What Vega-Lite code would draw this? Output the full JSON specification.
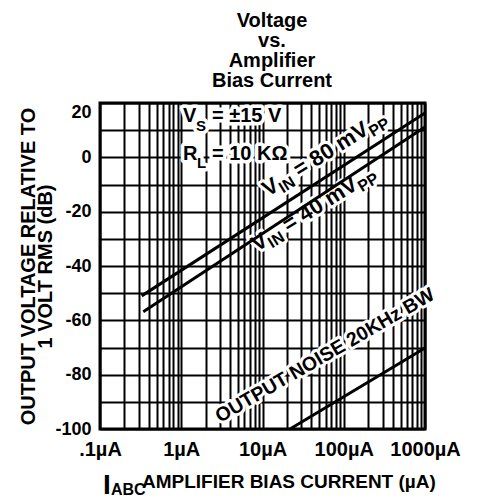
{
  "$schema": "https://vega.github.io/schema/vega-lite/v6.json",
  "width": 325,
  "height": 326,
  "autosize": {"type": "none"},
  "padding": {"left": 100, "top": 103, "right": 54, "bottom": 71},
  "background": "white",
  "title": {
    "text": ["Voltage", "vs.", "Amplifier", "Bias Current"],
    "font": "Liberation Sans",
    "fontSize": 20,
    "fontWeight": "bold",
    "color": "black",
    "lineHeight": 20,
    "anchor": "middle",
    "frame": "group",
    "baseline": "bottom",
    "dx": 9.5,
    "offset": -8
  },
  "config": {
    "view": {"stroke": "black", "strokeWidth": 3},
    "font": "Liberation Sans"
  },
  "datasets": {
    "lines": [
      {"series": "80 mVpp", "current": 0.326, "db": -51.0},
      {"series": "80 mVpp", "current": 1000, "db": 16.3},
      {"series": "40 mVpp", "current": 0.341, "db": -56.8},
      {"series": "40 mVpp", "current": 1000, "db": 11.2},
      {"series": "noise", "current": 21.8, "db": -100},
      {"series": "noise", "current": 1000, "db": -70.2}
    ],
    "labels": [
      {"g": "curve", "current": 11.69, "db": -14.6, "text": "V"},
      {"g": "curve", "current": 28.29, "db": -7.42, "text": "= 80 mV"},
      {"g": "curve", "current": 8.555, "db": -34.85, "text": "V"},
      {"g": "curve", "current": 20.72, "db": -27.67, "text": "= 40 mV"},
      {"g": "curveSub", "current": 17.93, "db": -13.28, "text": "IN"},
      {"g": "curveSub", "current": 228.5, "db": 7.37, "text": "PP"},
      {"g": "curveSub", "current": 13.13, "db": -33.52, "text": "IN"},
      {"g": "curveSub", "current": 167.2, "db": -12.87, "text": "PP"},
      {"g": "noise", "current": 3.0, "db": -97.79, "text": "OUTPUT NOISE 20KHz BW"},
      {"g": "cond", "current": 1.051, "db": 13.01, "text": "V"},
      {"g": "cond", "current": 2.39, "db": 13.01, "text": "= ±15 V"},
      {"g": "cond", "current": 1.051, "db": -0.98, "text": "R"},
      {"g": "cond", "current": 2.39, "db": -0.98, "text": "= 10 KΩ"},
      {"g": "condSub", "current": 1.519, "db": 9.69, "text": "S"},
      {"g": "condSub", "current": 1.563, "db": -3.93, "text": "L"},
      {"g": "xtitle", "current": 0.3287, "db": -121.72, "text": "AMPLIFIER BIAS CURRENT (µA)"},
      {"g": "xtitleI", "current": 0.1089, "db": -123.93, "text": "I"},
      {"g": "xtitleSub", "current": 0.1366, "db": -124.29, "text": "ABC"}
    ]
  },
  "encoding": {
    "x": {
      "field": "current",
      "type": "quantitative",
      "scale": {"type": "log", "domain": [0.1, 1000], "nice": false},
      "axis": {
        "values": [0.1, 0.2, 0.3, 0.4, 0.5, 0.6, 0.7, 0.8, 0.9, 1, 2, 3, 4, 5, 6, 7, 8, 9, 10, 20, 30, 40, 50, 60, 70, 80, 90, 100, 200, 300, 400, 500, 600, 700, 800, 900, 1000],
        "labelExpr": "datum.value == 0.1 ? '.1µA' : datum.value == 1 ? '1µA' : datum.value == 10 ? '10µA' : datum.value == 100 ? '100µA' : datum.value == 1000 ? '1000µA' : ''",
        "encode": {"labels": {"update": {"dx": {"signal": "datum.value == 0.1 ? 22 : datum.value == 1 ? -2 : datum.value == 10 ? -5.5 : datum.value == 100 ? 8 : datum.value == 1000 ? 10 : 0"}}}},
        "title": null,
        "ticks": false,
        "domain": false,
        "grid": true,
        "gridColor": "black",
        "gridWidth": 2,
        "gridOpacity": 1,
        "labelFont": "Liberation Sans",
        "labelFontSize": 20,
        "labelFontWeight": "bold",
        "labelColor": "black",
        "labelPadding": 10,
        "labelFlush": false,
        "labelOverlap": false,
        "labelBound": false
      }
    },
    "y": {
      "field": "db",
      "type": "quantitative",
      "scale": {"domain": [-100, 20], "nice": false, "zero": false},
      "axis": {
        "values": [-100, -90, -80, -70, -60, -50, -40, -30, -20, -10, 0, 10, 20],
        "labelExpr": "datum.value % 20 == 0 ? '' + datum.value : ''",
        "ticks": false,
        "domain": false,
        "grid": true,
        "gridColor": "black",
        "gridWidth": 2,
        "gridOpacity": 1,
        "labelFont": "Liberation Sans",
        "labelFontSize": 18,
        "labelFontWeight": "bold",
        "labelColor": "black",
        "labelPadding": 9,
        "labelFlush": false,
        "labelOverlap": false,
        "labelBaseline": {"condition": {"test": "datum.value == 20", "value": "top"}, "value": "middle"},
        "title": ["OUTPUT VOLTAGE RELATIVE TO", "1 VOLT RMS (dB)"],
        "titleFont": "Liberation Sans",
        "titleFontSize": 20,
        "titleFontWeight": "bold",
        "titleColor": "black",
        "titleAngle": 270,
        "titleAlign": "center",
        "titleBaseline": "alphabetic",
        "titleLineHeight": 17,
        "titleX": -66,
        "titleY": 163
      }
    }
  },
  "layer": [
    {
      "data": {"name": "labels"},
      "transform": [{"filter": "datum.g == 'curve'"}],
      "mark": {"type": "text", "angle": -32, "align": "left", "baseline": "alphabetic", "fontSize": 22, "fontWeight": "bold", "fill": "white", "stroke": "white", "strokeWidth": 6, "strokeJoin": "round"},
      "encoding": {"text": {"field": "text"}}
    },
    {
      "data": {"name": "labels"},
      "transform": [{"filter": "datum.g == 'curveSub'"}],
      "mark": {"type": "text", "angle": -32, "align": "left", "baseline": "alphabetic", "fontSize": 16, "fontWeight": "bold", "fill": "white", "stroke": "white", "strokeWidth": 6, "strokeJoin": "round"},
      "encoding": {"text": {"field": "text"}}
    },
    {
      "data": {"name": "labels"},
      "transform": [{"filter": "datum.g == 'noise'"}],
      "mark": {"type": "text", "angle": -30, "align": "left", "baseline": "alphabetic", "fontSize": 19.5, "fontWeight": "bold", "fill": "white", "stroke": "white", "strokeWidth": 6, "strokeJoin": "round"},
      "encoding": {"text": {"field": "text"}}
    },
    {
      "data": {"name": "labels"},
      "transform": [{"filter": "datum.g == 'cond'"}],
      "mark": {"type": "text", "align": "left", "baseline": "alphabetic", "fontSize": 20, "fontWeight": "bold", "fill": "white", "stroke": "white", "strokeWidth": 7, "strokeJoin": "round"},
      "encoding": {"text": {"field": "text"}}
    },
    {
      "data": {"name": "labels"},
      "transform": [{"filter": "datum.g == 'condSub'"}],
      "mark": {"type": "text", "align": "left", "baseline": "alphabetic", "fontSize": 15, "fontWeight": "bold", "fill": "white", "stroke": "white", "strokeWidth": 7, "strokeJoin": "round"},
      "encoding": {"text": {"field": "text"}}
    },
    {
      "data": {"name": "lines"},
      "mark": {"type": "line", "color": "black", "strokeWidth": 3, "strokeCap": "butt"},
      "encoding": {"detail": {"field": "series"}}
    },
    {
      "data": {"name": "labels"},
      "transform": [{"filter": "datum.g == 'curve'"}],
      "mark": {"type": "text", "angle": -32, "align": "left", "baseline": "alphabetic", "fontSize": 22, "fontWeight": "bold", "color": "black"},
      "encoding": {"text": {"field": "text"}}
    },
    {
      "data": {"name": "labels"},
      "transform": [{"filter": "datum.g == 'curveSub'"}],
      "mark": {"type": "text", "angle": -32, "align": "left", "baseline": "alphabetic", "fontSize": 16, "fontWeight": "bold", "color": "black"},
      "encoding": {"text": {"field": "text"}}
    },
    {
      "data": {"name": "labels"},
      "transform": [{"filter": "datum.g == 'noise'"}],
      "mark": {"type": "text", "angle": -30, "align": "left", "baseline": "alphabetic", "fontSize": 19.5, "fontWeight": "bold", "color": "black"},
      "encoding": {"text": {"field": "text"}}
    },
    {
      "data": {"name": "labels"},
      "transform": [{"filter": "datum.g == 'cond'"}],
      "mark": {"type": "text", "align": "left", "baseline": "alphabetic", "fontSize": 20, "fontWeight": "bold", "color": "black"},
      "encoding": {"text": {"field": "text"}}
    },
    {
      "data": {"name": "labels"},
      "transform": [{"filter": "datum.g == 'condSub'"}],
      "mark": {"type": "text", "align": "left", "baseline": "alphabetic", "fontSize": 15, "fontWeight": "bold", "color": "black"},
      "encoding": {"text": {"field": "text"}}
    },
    {
      "data": {"name": "labels"},
      "transform": [{"filter": "datum.g == 'xtitle'"}],
      "mark": {"type": "text", "align": "left", "baseline": "alphabetic", "fontSize": 19, "fontWeight": "bold", "color": "black"},
      "encoding": {"text": {"field": "text"}}
    },
    {
      "data": {"name": "labels"},
      "transform": [{"filter": "datum.g == 'xtitleI'"}],
      "mark": {"type": "text", "align": "left", "baseline": "alphabetic", "fontSize": 28, "fontWeight": "bold", "color": "black"},
      "encoding": {"text": {"field": "text"}}
    },
    {
      "data": {"name": "labels"},
      "transform": [{"filter": "datum.g == 'xtitleSub'"}],
      "mark": {"type": "text", "align": "left", "baseline": "alphabetic", "fontSize": 16, "fontWeight": "bold", "color": "black"},
      "encoding": {"text": {"field": "text"}}
    }
  ]
}
